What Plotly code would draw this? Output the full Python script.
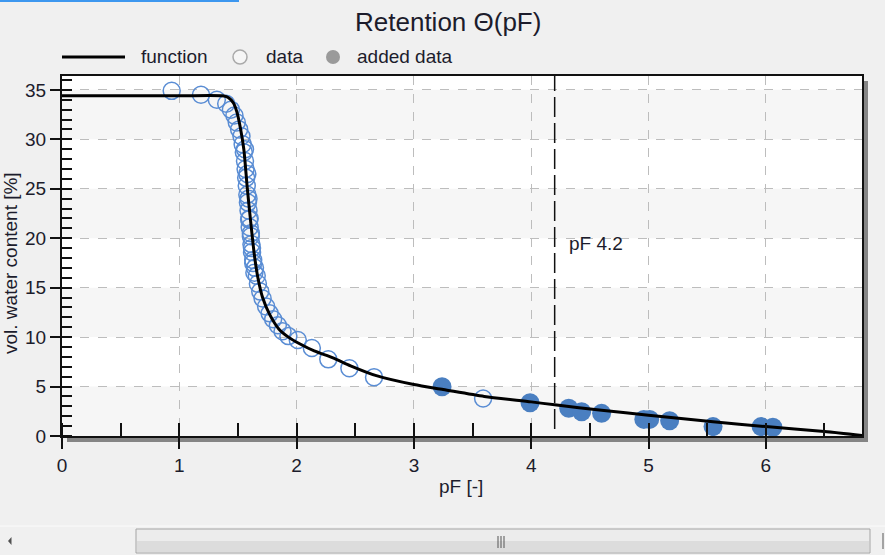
import plotly.graph_objects as go

# ---- fitted retention function (pF vs. volumetric water content) ----
func_pf = [0.0, 1.0, 1.38, 1.42, 1.46, 1.49, 1.52, 1.55, 1.58, 1.61, 1.64, 1.67,
           1.71, 1.77, 1.85, 1.93, 2.03, 2.15, 2.31, 2.46, 2.68, 3.0, 3.25, 3.6,
           4.0, 4.2, 4.6, 5.0, 5.55, 6.0, 6.5, 6.82]
func_theta = [34.4, 34.4, 34.38, 34.2, 33.7, 32.8, 31.2, 29.0, 25.0, 21.5, 18.3, 16.0,
              14.0, 12.3, 10.8, 10.0, 9.3, 8.6, 7.9, 7.1, 6.1, 5.2, 4.7, 4.0,
              3.45, 3.15, 2.6, 2.1, 1.45, 0.95, 0.45, 0.05]

# ---- measured data ----
data_pf = [0.935, 1.185, 1.32, 1.40, 1.44, 1.47, 1.49, 1.51, 1.53, 1.54, 1.55, 1.56,
           1.565, 1.57, 1.575, 1.58, 1.585, 1.59, 1.595, 1.60, 1.61, 1.615, 1.62,
           1.63, 1.645, 1.66, 1.67, 1.69, 1.71, 1.74, 1.77, 1.80, 1.84, 1.88, 1.93,
           2.01, 2.13, 2.27, 2.45, 2.66, 3.59,
           1.56, 1.58, 1.59, 1.60, 1.61, 1.62, 1.63, 1.64]
data_theta = [34.9, 34.5, 34.0, 33.6, 33.0, 32.4, 31.7, 31.0, 30.3, 29.5, 28.7, 27.8,
              27.0, 26.1, 25.3, 24.4, 23.6, 22.8, 21.9, 21.1, 20.2, 19.4, 18.6,
              17.8, 17.0, 16.2, 15.4, 14.6, 13.9, 13.1, 12.4, 11.8, 11.2, 10.6, 10.1,
              9.7, 8.9, 7.75, 6.85, 5.95, 3.8,
              29.0, 26.5, 24.0, 22.0, 20.5, 19.0, 17.5, 16.5]

# ---- added data ----
added_pf = [3.24, 3.99, 4.32, 4.43, 4.60, 4.96, 5.01, 5.18, 5.55, 5.96, 6.06]
added_theta = [4.98, 3.37, 2.8, 2.46, 2.29, 1.68, 1.68, 1.55, 0.95, 0.95, 0.88]

pf_mark = 4.2
x_range = [0, 6.82]
y_range = [0, 36.4]
x_ticks = [0, 1, 2, 3, 4, 5, 6]
y_ticks = [0, 5, 10, 15, 20, 25, 30, 35]
band_edges = [(0, 5), (10, 15), (20, 25), (30, 35)]

W, H = 885, 555
PL, PR, PT, PB = 62, 862, 76, 436
FONT = "Liberation Sans, Arial, sans-serif"
TXT = "#1c1c2c"


def px(x):
    return (x - PL) / (PR - PL)


def py(y):
    return (PB - y) / (PB - PT)


fig = go.Figure()
fig.add_trace(go.Scatter(
    x=data_pf, y=data_theta, mode="markers", name="data", showlegend=False,
    marker=dict(symbol="circle-open", size=17, color="#5a8dd4",
                line=dict(width=1.5, color="#5a8dd4")),
))
fig.add_trace(go.Scatter(
    x=added_pf, y=added_theta, mode="markers", name="added data", showlegend=False,
    marker=dict(symbol="circle", size=19, color="#4a7fc1",
                line=dict(width=0, color="#4a7fc1")),
))
fig.add_trace(go.Scatter(
    x=func_pf, y=func_theta, mode="lines", name="function", showlegend=False,
    line=dict(color="#000000", width=3, shape="spline", smoothing=0.7),
))

shapes = []
# alternating horizontal bands
for lo, hi in band_edges:
    shapes.append(dict(type="rect", xref="paper", yref="y", x0=0, x1=1, y0=lo, y1=hi,
                       fillcolor="#f6f6f6", line=dict(width=0), layer="below"))
# drop shadow around the plot frame
shapes.append(dict(type="rect", xref="paper", yref="paper",
                   x0=px(863), x1=px(868), y0=py(442), y1=py(81),
                   fillcolor="#858585", line=dict(width=0), layer="below"))
shapes.append(dict(type="rect", xref="paper", yref="paper",
                   x0=px(67), x1=px(868), y0=py(442), y1=py(437),
                   fillcolor="#858585", line=dict(width=0), layer="below"))
# pF 4.2 marker line
shapes.append(dict(type="line", xref="x", yref="paper", x0=pf_mark, x1=pf_mark,
                   y0=py(429), y1=1, line=dict(color="#111111", width=1.5,
                                               dash="20px,6px")))
# legend glyphs
shapes.append(dict(type="line", xref="paper", yref="paper", x0=px(62), x1=px(125),
                   y0=py(57), y1=py(57), line=dict(color="#000000", width=3)))
shapes.append(dict(type="circle", xref="paper", yref="paper", x0=px(233), x1=px(247),
                   y0=py(64), y1=py(50), fillcolor="#f6f6f6",
                   line=dict(color="#aaaaaa", width=1.5)))
shapes.append(dict(type="circle", xref="paper", yref="paper", x0=px(326), x1=px(340),
                   y0=py(64), y1=py(50), fillcolor="#9a9a9a", line=dict(width=0)))
# window chrome: tab underline and horizontal scrollbar
shapes.append(dict(type="rect", xref="paper", yref="paper", x0=px(0), x1=px(239),
                   y0=py(2), y1=py(0), fillcolor="#3d97ef", line=dict(width=0)))
shapes.append(dict(type="line", xref="paper", yref="paper", x0=px(0), x1=px(885),
                   y0=py(526), y1=py(526), line=dict(color="#fbfbfb", width=1)))
shapes.append(dict(type="rect", xref="paper", yref="paper", x0=px(136), x1=px(870),
                   y0=py(553), y1=py(529), fillcolor="#ececec",
                   line=dict(color="#a4a4a4", width=1)))
shapes.append(dict(type="rect", xref="paper", yref="paper", x0=px(137), x1=px(869),
                   y0=py(552), y1=py(541), fillcolor="#dcdcdc", line=dict(width=0)))
for gx in (498, 501, 504):
    shapes.append(dict(type="line", xref="paper", yref="paper", x0=px(gx), x1=px(gx),
                       y0=py(548), y1=py(536), line=dict(color="#555555", width=1)))
shapes.append(dict(type="path", xref="paper", yref="paper",
                   path=f"M {px(8)} {py(541)} L {px(11.5)} {py(537)} L {px(11.5)} {py(545)} Z",
                   fillcolor="#505050", line=dict(width=0)))
shapes.append(dict(type="line", xref="paper", yref="paper", x0=px(883), x1=px(883),
                   y0=py(549), y1=py(533), line=dict(color="#8a8a8a", width=1.5)))

annotations = [
    dict(text="Retention Θ(pF)", xref="paper", yref="paper", x=px(448), y=py(22),
         xanchor="center", yanchor="middle", showarrow=False,
         font=dict(size=26, family=FONT, color=TXT)),
    dict(text="function", xref="paper", yref="paper", x=px(139), y=py(57),
         xanchor="left", yanchor="middle", showarrow=False,
         font=dict(size=19, family=FONT, color=TXT)),
    dict(text="data", xref="paper", yref="paper", x=px(264), y=py(57),
         xanchor="left", yanchor="middle", showarrow=False,
         font=dict(size=19, family=FONT, color=TXT)),
    dict(text="added data", xref="paper", yref="paper", x=px(355), y=py(57),
         xanchor="left", yanchor="middle", showarrow=False,
         font=dict(size=19, family=FONT, color=TXT)),
    dict(text="pF [-]", xref="paper", yref="paper", x=px(461), y=py(486),
         xanchor="center", yanchor="middle", showarrow=False,
         font=dict(size=19, family=FONT, color=TXT)),
    dict(text="vol. water content [%]", xref="paper", yref="paper", x=px(10), y=py(263),
         xanchor="center", yanchor="middle", showarrow=False, textangle=-90,
         font=dict(size=19, family=FONT, color=TXT)),
    dict(text=f"pF {pf_mark}", xref="x", yref="y", x=pf_mark, y=19.5, xshift=12,
         xanchor="left", yanchor="middle", showarrow=False,
         font=dict(size=19, family=FONT, color=TXT)),
]

axis_common = dict(
    showline=True, linecolor="#111111", linewidth=2, mirror=True,
    ticks="outside", tickcolor="#111111", tickwidth=1.5,
    showgrid=True, gridcolor="#bdbdbd", griddash="dash", gridwidth=1,
    zeroline=False, tickfont=dict(size=19, family=FONT, color=TXT),
)

fig.update_xaxes(range=x_range, tickvals=x_ticks, ticklen=11,
                 minor=dict(ticks="inside", dtick=0.5, tick0=0, ticklen=13,
                            tickcolor="#111111", tickwidth=1.5, showgrid=False),
                 **axis_common)
fig.update_yaxes(range=y_range, tickvals=y_ticks, ticklen=10,
                 minor=dict(ticks="inside", dtick=1, tick0=0, ticklen=10,
                            tickcolor="#111111", tickwidth=1.5, showgrid=False),
                 **axis_common)

fig.update_layout(
    width=W, height=H,
    margin=dict(l=PL, r=W - PR, t=PT, b=H - PB, pad=0),
    paper_bgcolor="#f0f0f0", plot_bgcolor="#ffffff",
    font=dict(family=FONT, color=TXT),
    shapes=shapes, annotations=annotations, showlegend=False,
)

fig.write_html("out.html")
